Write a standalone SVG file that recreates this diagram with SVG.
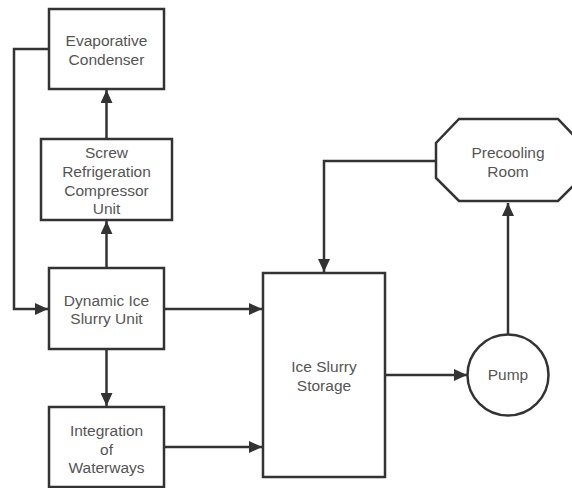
<svg xmlns="http://www.w3.org/2000/svg" width="572" height="488" viewBox="0 0 572 488">
<style>
.n{fill:#fff;stroke:#333;stroke-width:2.5}
.c{fill:none;stroke:#333;stroke-width:2.5}
text{font-family:"Liberation Sans",Arial,sans-serif;font-size:15.5px;fill:#555;text-anchor:middle}
</style>
<defs>
<marker id="a" viewBox="0 0 13 12" refX="13" refY="6" markerWidth="13" markerHeight="12" markerUnits="userSpaceOnUse" orient="auto">
<path d="M0,0 L13,6 L0,12 Z" fill="#333"/>
</marker>
</defs>
<rect width="572" height="488" fill="#fff"/>
<g id="connectors">
<path class="c" d="M49,49 H14 V309 H48" marker-end="url(#a)"/>
<path class="c" d="M106.5,139 V90" marker-end="url(#a)"/>
<path class="c" d="M106.5,268 V221" marker-end="url(#a)"/>
<path class="c" d="M106.5,349 V406" marker-end="url(#a)"/>
<path class="c" d="M164,309 H262" marker-end="url(#a)"/>
<path class="c" d="M164,447 H262" marker-end="url(#a)"/>
<path class="c" d="M385,375 H467" marker-end="url(#a)"/>
<path class="c" d="M508,335 V203" marker-end="url(#a)"/>
<path class="c" d="M436,161 H324 V272" marker-end="url(#a)"/>
</g>
<g id="evaporative-condenser">
<rect class="n" x="49" y="9" width="115" height="80"/>
<text x="106.5" y="46">Evaporative</text>
<text x="106.5" y="65">Condenser</text>
</g>
<g id="screw-compressor">
<rect class="n" x="41" y="139" width="131" height="81"/>
<text x="106.5" y="158">Screw</text>
<text x="106.5" y="177">Refrigeration</text>
<text x="106.5" y="195.5">Compressor</text>
<text x="106.5" y="214">Unit</text>
</g>
<g id="dynamic-ice-slurry-unit">
<rect class="n" x="49" y="268" width="115" height="81"/>
<text x="106.5" y="305.5">Dynamic Ice</text>
<text x="106.5" y="324">Slurry Unit</text>
</g>
<g id="integration-of-waterways">
<rect class="n" x="49" y="407" width="115" height="80"/>
<text x="106.5" y="436">Integration</text>
<text x="106.5" y="454.5">of</text>
<text x="106.5" y="473">Waterways</text>
</g>
<g id="ice-slurry-storage">
<rect class="n" x="263" y="273" width="122" height="204"/>
<text x="324" y="372">Ice Slurry</text>
<text x="324" y="390.5">Storage</text>
</g>
<g id="pump">
<circle class="n" cx="508" cy="375" r="40.5"/>
<text x="508" y="380">Pump</text>
</g>
<g id="precooling-room">
<path class="n" d="M459,119 H558 L581,143 V178 L558,201 H459 L436,178 V143 Z"/>
<text x="508" y="158">Precooling</text>
<text x="508" y="177">Room</text>
</g>
</svg>
